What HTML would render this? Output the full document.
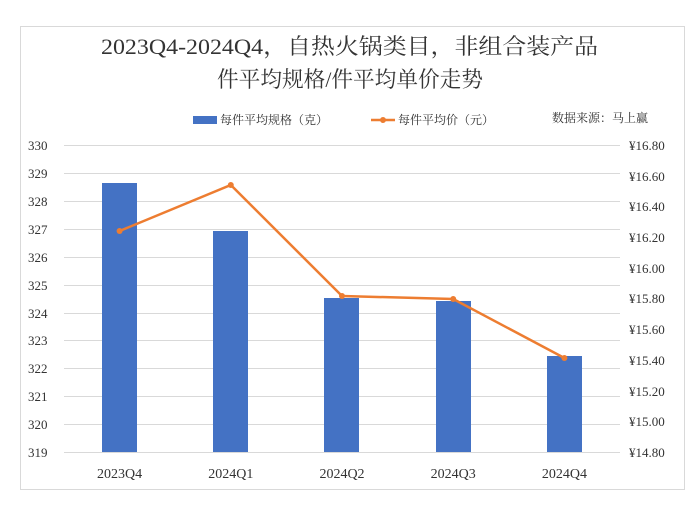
<!DOCTYPE html>
<html><head><meta charset="utf-8"><style>
body{margin:0;background:#fff;width:700px;height:510px;overflow:hidden}
svg text{font-family:"Liberation Serif","Noto Serif CJK SC",serif;fill:#333}
</style></head><body>
<svg width="700" height="510" xmlns="http://www.w3.org/2000/svg">
<rect x="20.5" y="26.5" width="664" height="463" fill="#fff" stroke="#d9d9d9"/>
<text x="101" y="54" font-size="22" textLength="497" lengthAdjust="spacingAndGlyphs" fill="#222">2023Q4-2024Q4，自热火锅类目，非组合装产品</text>
<text x="217" y="87" font-size="22" textLength="266" lengthAdjust="spacingAndGlyphs" fill="#222">件平均规格/件平均单价走势</text>
<rect x="193" y="116" width="24" height="8" fill="#4472c4"/>
<text x="220" y="124" font-size="12">每件平均规格（克）</text>
<line x1="371" y1="120" x2="395" y2="120" stroke="#ed7d31" stroke-width="2.5"/>
<circle cx="383" cy="120" r="3" fill="#ed7d31"/>
<text x="398" y="124" font-size="12">每件平均价（元）</text>
<text x="552" y="122" font-size="12">数据来源：马上赢</text>
<g stroke="#d9d9d9" stroke-width="1">
<line x1="64" y1="145.5" x2="620" y2="145.5"/><line x1="64" y1="173.5" x2="620" y2="173.5"/>
<line x1="64" y1="201.5" x2="620" y2="201.5"/><line x1="64" y1="229.5" x2="620" y2="229.5"/>
<line x1="64" y1="257.5" x2="620" y2="257.5"/><line x1="64" y1="285.5" x2="620" y2="285.5"/>
<line x1="64" y1="313.5" x2="620" y2="313.5"/><line x1="64" y1="340.5" x2="620" y2="340.5"/>
<line x1="64" y1="368.5" x2="620" y2="368.5"/><line x1="64" y1="396.5" x2="620" y2="396.5"/>
<line x1="64" y1="424.5" x2="620" y2="424.5"/><line x1="64" y1="452.5" x2="620" y2="452.5"/>
</g>
<g font-size="13" text-anchor="start">
<text x="28" y="150">330</text><text x="28" y="178">329</text><text x="28" y="206">328</text>
<text x="28" y="234">327</text><text x="28" y="262">326</text><text x="28" y="290">325</text>
<text x="28" y="318">324</text><text x="28" y="345">323</text><text x="28" y="373">322</text>
<text x="28" y="401">321</text><text x="28" y="429">320</text><text x="28" y="457">319</text>
</g>
<g font-size="13" text-anchor="start">
<text x="629" y="150">¥16.80</text><text x="629" y="181">¥16.60</text><text x="629" y="211">¥16.40</text>
<text x="629" y="242">¥16.20</text><text x="629" y="273">¥16.00</text><text x="629" y="303">¥15.80</text>
<text x="629" y="334">¥15.60</text><text x="629" y="365">¥15.40</text><text x="629" y="396">¥15.20</text>
<text x="629" y="426">¥15.00</text><text x="629" y="457">¥14.80</text>
</g>
<g fill="#4472c4">
<rect x="102" y="183" width="35" height="269"/>
<rect x="213" y="231" width="35" height="221"/>
<rect x="324" y="298" width="35" height="154"/>
<rect x="436" y="301" width="35" height="151"/>
<rect x="547" y="356" width="35" height="96"/>
</g>
<polyline points="119.6,231 230.8,185 342,296 453.2,299 564.4,358" fill="none" stroke="#ed7d31" stroke-width="2.5"/>
<g fill="#ed7d31">
<circle cx="119.6" cy="231" r="3"/><circle cx="230.8" cy="185" r="3"/><circle cx="342" cy="296" r="3"/>
<circle cx="453.2" cy="299" r="3"/><circle cx="564.4" cy="358" r="3"/>
</g>
<g font-size="14" text-anchor="middle">
<text x="119.6" y="478">2023Q4</text><text x="230.8" y="478">2024Q1</text><text x="342" y="478">2024Q2</text>
<text x="453.2" y="478">2024Q3</text><text x="564.4" y="478">2024Q4</text>
</g>
</svg>
</body></html>
